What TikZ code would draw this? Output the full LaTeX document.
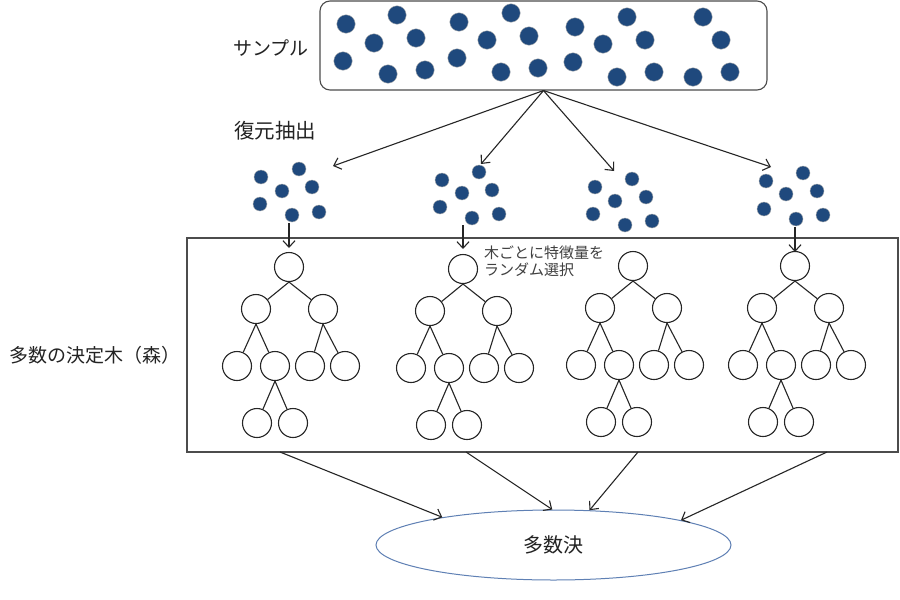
\documentclass[tikz,border=0pt]{standalone}
\usepackage{fontspec}
\newfontfamily\jp{Noto Sans CJK JP}
\usetikzlibrary{arrows.meta,shapes.geometric}
\definecolor{dotblue}{RGB}{31,73,125}
\definecolor{ellblue}{RGB}{95,128,180}
\definecolor{txt}{RGB}{35,35,35}
\begin{document}
\begin{tikzpicture}[x=1pt,y=-1pt,
 bigdot/.style={circle,fill=dotblue,draw=gray!60,line width=0.4pt,minimum size=18.5pt,inner sep=0pt},
 smalldot/.style={circle,fill=dotblue,draw=gray!60,line width=0.4pt,minimum size=14pt,inner sep=0pt},
 treenode/.style={circle,draw=black!85,fill=white,line width=1.1pt,minimum size=29pt,inner sep=0pt},
 treeedge/.style={draw=black!85,line width=1.1pt},
 arr/.style={draw=black!85,line width=1.1pt,-{Straight Barb[length=6.5pt,width=12pt]}},
 panel/.style={draw=black!70,line width=1.1pt,inner sep=0pt},
 lbl/.style={font=\jp,text=txt,inner sep=0pt}
]
\useasboundingbox[fill=white] (0,0) rectangle (900,600);

% sample box
\node[panel,rounded corners=10pt,minimum width=447pt,minimum height=89pt] (sample) at (543.5,45.5) {};
\foreach \n/\x/\y in {1/346/24,2/397/15,3/374/43,4/416/38,5/343/61,6/388/74,7/425/70,
  8/459/22,9/487/40,10/457/58,11/511/13,12/529/36,13/501/72,14/538/68,
  15/575/27,16/573/62,17/603/44,18/627/17,19/645/40,20/617/77,21/654/72,
  22/703/17,23/721/40,24/693/77,25/730/72}
  \node[bigdot] (s\n) at (\x,\y) {};

\node[lbl,font=\jp\fontsize{19}{22}\selectfont] (lsample) at (271,48) {サンプル};
\node[lbl,font=\jp\fontsize{20.5}{24}\selectfont] (lboot) at (275,131) {復元抽出};

% bootstrap clusters
\foreach \n/\x/\y in {1/261/177,2/299/169,3/282/191,4/312/187,5/260/204,6/292/215,7/319/212}
  \node[smalldot] (c1-\n) at (\x,\y) {};
\foreach \n/\x/\y in {1/442/180,2/479/172,3/462/193,4/492/190,5/440/207,6/472/218,7/499/214}
  \node[smalldot] (c2-\n) at (\x,\y) {};
\foreach \n/\x/\y in {1/595/187,2/632/179,3/615/201,4/646/197,5/593/214,6/625/225,7/652/221}
  \node[smalldot] (c3-\n) at (\x,\y) {};
\foreach \n/\x/\y in {1/766/181,2/803/173,3/786/194,4/817/191,5/764/209,6/796/219,7/823/215}
  \node[smalldot] (c4-\n) at (\x,\y) {};

\coordinate (k1) at (333,166);
\coordinate (k2) at (481,164);
\coordinate (k3) at (614,171);
\coordinate (k4) at (771,167);
\foreach \k in {1,2,3,4}
  \draw[arr] (sample.south) -- (k\k);

% forest box
\node[panel,minimum width=711pt,minimum height=214pt] (forest) at (542.5,345) {};
\node[lbl,font=\jp\fontsize{19}{22}\selectfont,anchor=west] (lforest) at (9,355) {多数の決定木（森）};

% trees
\foreach \i/\rx/\ry in {1/289/267,2/463/269,3/633/266,4/795/266} {
  \node[treenode] (t\i-r) at (\rx,\ry) {};
  \node[treenode] (t\i-a) at (\rx-33,\ry+42) {};
  \node[treenode] (t\i-b) at (\rx+34,\ry+42) {};
  \node[treenode] (t\i-c) at (\rx-52,\ry+99) {};
  \node[treenode] (t\i-d) at (\rx-14,\ry+99) {};
  \node[treenode] (t\i-e) at (\rx+21,\ry+99) {};
  \node[treenode] (t\i-f) at (\rx+56,\ry+99) {};
  \node[treenode] (t\i-g) at (\rx-32,\ry+156) {};
  \node[treenode] (t\i-h) at (\rx+4,\ry+156) {};
  \draw[treeedge] (t\i-r.south) -- (t\i-a);
  \draw[treeedge] (t\i-r.south) -- (t\i-b);
  \draw[treeedge] (t\i-a.south) -- (t\i-c);
  \draw[treeedge] (t\i-a.south) -- (t\i-d);
  \draw[treeedge] (t\i-b.south) -- (t\i-e);
  \draw[treeedge] (t\i-b.south) -- (t\i-f);
  \draw[treeedge] (t\i-d.south) -- (t\i-g);
  \draw[treeedge] (t\i-d.south) -- (t\i-h);
}

% cluster to tree arrows
\coordinate (u1) at (289,223);
\coordinate (u2) at (463,225);
\coordinate (u4) at (795,227);
\coordinate (w1) at (289,248);
\coordinate (w2) at (463,249);
\coordinate (w4) at (795,252);
\draw[arr] (u1) -- (w1);
\draw[arr] (u2) -- (w2);
\draw[arr] (u4) -- (w4);

\node[lbl,font=\jp\fontsize{15}{17}\selectfont,anchor=north west,align=left,text=black!75] (lfeat) at (484,246) {木ごとに特徴量を\\ランダム選択};

% majority vote
\node[ellipse,draw=ellblue,line width=1pt,minimum width=355pt,minimum height=70pt,inner sep=0pt,font=\jp\fontsize{20}{24}\selectfont,text=txt] (vote) at (553.5,545) {多数決};

\coordinate (f1) at (280,452);
\coordinate (f2) at (466,452);
\coordinate (f3) at (638,452);
\coordinate (f4) at (827,452);
\draw[arr] (f1) -- (vote.166);
\draw[arr] (f2) -- (vote.92);
\draw[arr] (f3) -- (vote.44);
\draw[arr] (f4) -- (vote.11);
\end{tikzpicture}
\end{document}
